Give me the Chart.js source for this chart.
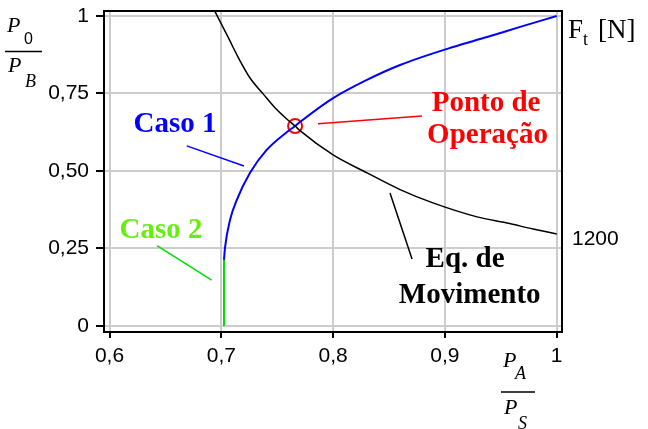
<!DOCTYPE html>
<html>
<head>
<meta charset="utf-8">
<script src="https://cdn.jsdelivr.net/npm/chart.js@4.4.0/dist/chart.umd.min.js"></script>
<style>
  body { margin: 0; background: #fff; }
  #wrap { width: 648px; height: 429px; position: relative; }
</style>
</head>
<body>
<div id="wrap"><canvas id="myChart"></canvas></div>
<script>
// P_A/P_S on x, P_0/P_B on y
const caso1X = [0.7024, 0.7033, 0.7078, 0.7138, 0.7257, 0.7406, 0.7588, 0.766, 0.7704, 0.8000, 0.8303, 0.8599, 0.9073, 0.9377, 0.9673, 1.0];
const caso1Y = [0.213, 0.252, 0.342, 0.406, 0.494, 0.568, 0.626, 0.645, 0.658, 0.735, 0.794, 0.842, 0.900, 0.932, 0.965, 1.0];

const caso2X = [0.7024, 0.7024];
const caso2Y = [0, 0.213];

// equation of motion curve (right scale, F_t in N)
const movX = [0.6944, 0.7063, 0.7152, 0.7257, 0.7376, 0.7480, 0.7588, 0.766, 0.7704, 0.8000, 0.8303, 0.8599, 0.8893, 0.9287, 0.9556, 0.9789, 1.0];
const movY = [1.014, 0.930, 0.866, 0.800, 0.748, 0.704, 0.667, 0.645, 0.630, 0.552, 0.494, 0.440, 0.397, 0.352, 0.332, 0.313, 0.297];

const opX = [0.766];
const opY = [0.645];

const xTicks = [0.6, 0.7, 0.8, 0.9, 1];
const xTickLabels = ['0,6', '0,7', '0,8', '0,9', '1'];
const yTicks = [0, 0.25, 0.5, 0.75, 1];
const yTickLabels = ['0', '0,25', '0,50', '0,75', '1'];

const toPoints = (xs, ys) => xs.map((x, i) => ({ x: x, y: ys[i] }));

// text labels and their leader lines, in data units
const notes = [
  { text: 'Caso 1', x: 0.6586, y: 0.625, color: '#0000ff' },
  { text: 'Caso 2', x: 0.6461, y: 0.284, color: '#66ee11' },
  { text: 'Ponto de', x: 0.9368, y: 0.6945, color: '#ff0000' },
  { text: 'Operação', x: 0.9381, y: 0.590, color: '#ff0000' },
  { text: 'Eq. de', x: 0.918, y: 0.189, color: '#000000' },
  { text: 'Movimento', x: 0.9222, y: 0.075, color: '#000000' }
];
const leaders = [
  { x1: 0.6691, y1: 0.581, x2: 0.7203, y2: 0.516, color: '#0000ff' },
  { x1: 0.6425, y1: 0.259, x2: 0.6914, y2: 0.148, color: '#00dd00' },
  { x1: 0.7865, y1: 0.652, x2: 0.8795, y2: 0.677, color: '#ff0000' },
  { x1: 0.8509, y1: 0.429, x2: 0.8706, y2: 0.216, color: '#000000' }
];

// numerator over denominator, each an italic P with a subscript
function frac(ctx, f) {
  ctx.fillStyle = '#000';
  ctx.textAlign = 'left';
  ctx.textBaseline = 'alphabetic';
  ctx.font = 'italic 22px "Liberation Serif"';
  ctx.fillText('P', f.x + 2, f.y - f.up);
  ctx.fillText('P', f.x + 3, f.y + f.down);
  ctx.font = f.topSub.font;
  ctx.fillText(f.topSub.text, f.x + f.topSub.dx, f.y - f.up + 12);
  ctx.font = f.botSub.font;
  ctx.fillText(f.botSub.text, f.x + f.botSub.dx, f.y + f.down + 15);
  ctx.strokeStyle = '#000';
  ctx.lineWidth = 1.5;
  ctx.beginPath();
  ctx.moveTo(f.x, f.y);
  ctx.lineTo(f.x + f.w, f.y);
  ctx.stroke();
}

const extras = {
  id: 'extras',
  afterDraw(chart) {
    const ctx = chart.ctx;
    const xs = chart.scales.x, ys = chart.scales.y;
    const a = chart.chartArea;
    ctx.save();

    // box around the plot
    ctx.strokeStyle = '#000';
    ctx.lineWidth = 2;
    ctx.strokeRect(a.left, a.top, a.right - a.left, a.bottom - a.top);

    leaders.forEach(l => {
      ctx.strokeStyle = l.color;
      ctx.lineWidth = 1.5;
      ctx.beginPath();
      ctx.moveTo(xs.getPixelForValue(l.x1), ys.getPixelForValue(l.y1));
      ctx.lineTo(xs.getPixelForValue(l.x2), ys.getPixelForValue(l.y2));
      ctx.stroke();
    });

    ctx.font = 'bold 29px "Liberation Serif"';
    ctx.textAlign = 'center';
    ctx.textBaseline = 'alphabetic';
    notes.forEach(n => {
      ctx.fillStyle = n.color;
      ctx.fillText(n.text, xs.getPixelForValue(n.x), ys.getPixelForValue(n.y));
    });

    // right hand scale: F_t [N]
    ctx.fillStyle = '#000';
    ctx.textAlign = 'left';
    ctx.font = '21px "Liberation Sans"';
    ctx.fillText('1200', a.right + 10, ys.getPixelForValue(movY[movY.length - 1]) + 11);
    ctx.font = '27px "Liberation Serif"';
    ctx.fillText('F', a.right + 6, a.top + 27);
    ctx.fillText('[N]', a.right + 36, a.top + 27);
    ctx.font = '18px "Liberation Serif"';
    ctx.fillText('t', a.right + 21, a.top + 34);

    // axis titles
    frac(ctx, { x: 5, y: 51.5, w: 37, up: 19.5, down: 20.5,
      topSub: { text: '0', font: '16px "Liberation Sans"', dx: 19 },
      botSub: { text: 'B', font: 'italic 18px "Liberation Serif"', dx: 20 } });
    frac(ctx, { x: 501, y: 392, w: 34, up: 25, down: 22,
      topSub: { text: 'A', font: 'italic 18px "Liberation Serif"', dx: 14 },
      botSub: { text: 'S', font: 'italic 18px "Liberation Serif"', dx: 17 } });

    ctx.restore();
  }
};

const ctx = document.getElementById('myChart').getContext('2d');
const myChart = new Chart(ctx, {
  type: 'scatter',
  data: {
    datasets: [
      {
        label: 'Eq. de Movimento',
        data: toPoints(movX, movY),
        showLine: true,
        borderColor: '#000000',
        borderWidth: 1.5,
        pointRadius: 0,
        cubicInterpolationMode: 'monotone'
      },
      {
        label: 'Caso 1',
        data: toPoints(caso1X, caso1Y),
        showLine: true,
        borderColor: '#0000ff',
        borderWidth: 2,
        pointRadius: 0,
        cubicInterpolationMode: 'monotone'
      },
      {
        label: 'Caso 2',
        data: toPoints(caso2X, caso2Y),
        showLine: true,
        borderColor: '#00dd00',
        borderWidth: 2,
        pointRadius: 0
      },
      {
        label: 'Ponto de Operação',
        data: toPoints(opX, opY),
        pointRadius: 7,
        pointBorderWidth: 2,
        pointBorderColor: '#ff0000',
        pointBackgroundColor: 'rgba(0,0,0,0)'
      }
    ]
  },
  options: {
    responsive: true,
    maintainAspectRatio: false,
    animation: false,
    layout: { padding: { top: 11, right: 86, left: 0, bottom: 0 } },
    plugins: { legend: { display: false }, tooltip: { enabled: false } },
    scales: {
      x: {
        type: 'linear',
        min: 0.59508,
        max: 1.00474,
        afterBuildTicks: s => { s.ticks = xTicks.map(v => ({ value: v })); },
        afterFit: s => { s.height = 97; s.paddingLeft = 0; s.paddingRight = 0; },
        grid: { color: '#cccccc', lineWidth: 2, tickColor: '#000', tickLength: 6, tickWidth: 2 },
        border: { color: '#000', width: 2 },
        ticks: {
          autoSkip: false, maxRotation: 0, padding: 6, color: '#000',
          font: { family: 'Liberation Sans', size: 21 },
          callback: (v, i) => xTickLabels[i]
        }
      },
      y: {
        type: 'linear',
        min: -0.0194,
        max: 1.0161,
        afterBuildTicks: s => { s.ticks = yTicks.map(v => ({ value: v })); },
        afterFit: s => { s.width = 104; s.paddingTop = 0; s.paddingBottom = 0; },
        grid: { color: '#cccccc', lineWidth: 2, tickColor: '#000', tickLength: 8, tickWidth: 2 },
        border: { color: '#000', width: 2 },
        ticks: {
          autoSkip: false, padding: 7, color: '#000',
          font: { family: 'Liberation Sans', size: 21 },
          callback: (v, i) => yTickLabels[i]
        }
      }
    }
  },
  plugins: [extras]
});
</script>
</body>
</html>
